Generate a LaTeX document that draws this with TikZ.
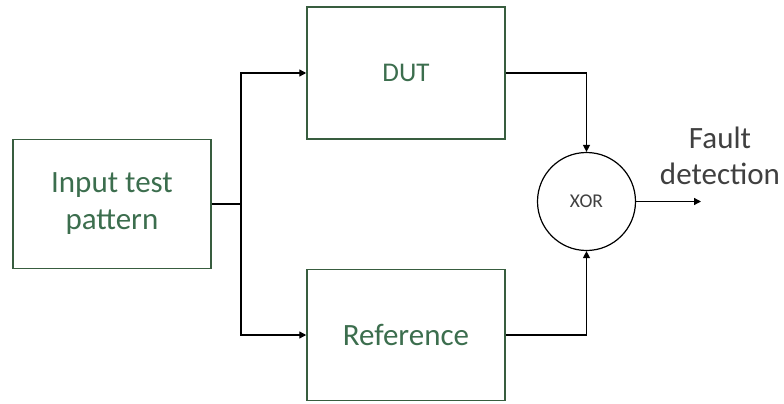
\documentclass[tikz,border=0pt]{standalone}
\usepackage{fontspec}
\setmainfont{Carlito}
\usetikzlibrary{arrows.meta}
\definecolor{boxgreen}{RGB}{56,93,63}
\definecolor{txtgreen}{RGB}{60,110,78}
\definecolor{txtgray}{RGB}{64,64,64}
\tikzset{
  block/.style={draw=boxgreen, line width=1.5pt, rectangle, inner sep=0pt,
    text=txtgreen, align=center},
  gate/.style={draw=black, line width=1.2pt, circle, inner sep=0pt,
    minimum size=98pt, text=txtgray},
  wire/.style={draw=black, line width=1.3pt},
  flow/.style={wire, -{Triangle[length=7pt, width=7pt]}},
}
\begin{document}
\begin{tikzpicture}[x=1pt, y=-1pt]
  \useasboundingbox (0,0) rectangle (784,404);

  % blocks
  \node[block, minimum width=198pt, minimum height=129pt,
        font=\fontsize{31}{37}\selectfont] (input) at (112,204)
        {Input test\\pattern};
  \node[block, minimum width=198pt, minimum height=132pt,
        font=\fontsize{27}{32}\selectfont] (dut) at (406,73) {DUT};
  \node[block, minimum width=198pt, minimum height=131pt,
        font=\fontsize{31}{37}\selectfont] (ref) at (406,335) {Reference};

  % comparator
  \node[gate, font=\fontsize{19.5}{23}\selectfont] (xor) at (586.5,201.5) {XOR};

  % output label
  \node[text=txtgray, align=center, font=\fontsize{31}{36}\selectfont]
        (fault) at (720,156) {Fault\\detection};

  % wiring
  \coordinate (split) at (241,204);
  \coordinate (out) at (701,201.5);
  \draw[wire] (input.east) -- (split);
  \draw[flow] (split) |- (dut.west);
  \draw[flow] (split) |- (ref.west);
  \draw[flow] (dut.east) -| (xor.north);
  \draw[flow] (ref.east) -| (xor.south);
  \draw[flow] (xor.east) -- (out);
\end{tikzpicture}
\end{document}
